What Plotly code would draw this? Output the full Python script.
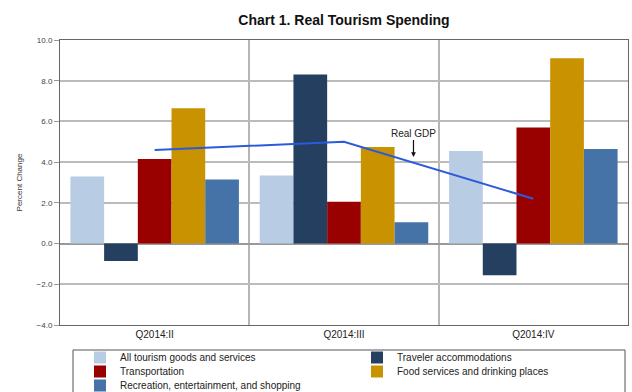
import plotly.graph_objects as go

quarters = ["Q2014:II", "Q2014:III", "Q2014:IV"]
series_names = [
    "All tourism goods and services",
    "Traveler accommodations",
    "Transportation",
    "Food services and drinking places",
    "Recreation, entertainment, and shopping",
]
all_tourism = [3.3, 3.35, 4.55]
traveler_acc = [-0.85, 8.3, -1.55]
transportation = [4.15, 2.05, 5.7]
food_services = [6.65, 4.75, 9.1]
recreation = [3.15, 1.05, 4.65]
real_gdp = [4.6, 5.0, 2.2]
y_ticks = [-4, -2, 0, 2, 4, 6, 8, 10]

series_values = [all_tourism, traveler_acc, transportation, food_services, recreation]
colors = ["#b8cce4", "#243f60", "#990000", "#c89200", "#4572a7"]
legend_ids = ["legend", "legend", "legend2", "legend2", "legend3"]

fig = go.Figure()
for name, vals, c, lg in zip(series_names, series_values, colors, legend_ids):
    fig.add_trace(go.Bar(x=quarters, y=vals, name=name, marker_color=c,
                         marker_line_width=0, legend=lg))
fig.add_trace(go.Scatter(x=quarters, y=real_gdp, mode="lines", name="Real GDP",
                         line=dict(color="#2a5bdc", width=2), showlegend=False))

fig.add_annotation(x=1.367, y=4.25, xref="x", yref="y",
                   text="Real GDP", showarrow=True, arrowhead=2, arrowsize=0.8,
                   arrowwidth=1.2, arrowcolor="#111", ax=0, ay=-24,
                   font=dict(size=10, color="#222"))

fig.add_shape(type="rect", xref="paper", yref="paper",
              x0=(73 - 60) / 568, x1=(625 - 60) / 568,
              y0=-0.40, y1=-(350 - 325) / 285,
              line=dict(color="#555", width=1))

leg_common = dict(orientation="h", xref="container", yref="container",
                  x=80 / 632, xanchor="left", yanchor="top",
                  entrywidth=232, entrywidthmode="pixels",
                  font=dict(size=10, color="#222"), bgcolor="rgba(0,0,0,0)",
                  borderwidth=0, itemwidth=30)

fig.update_layout(
    width=632, height=392,
    margin=dict(l=60, r=4, t=40, b=67),
    paper_bgcolor="white", plot_bgcolor="white",
    font=dict(family="Liberation Sans, Arial", size=9, color="#222"),
    title=dict(text="<b>Chart 1. Real Tourism Spending</b>", x=0.5, xref="paper",
               xanchor="center", y=1 - 20 / 392, yanchor="middle",
               font=dict(size=14, color="#111")),
    barmode="group", bargap=0.11, bargroupgap=0,
    showlegend=True,
    legend=dict(leg_common, y=1 - 343 / 392),
    legend2=dict(leg_common, y=1 - 357 / 392),
    legend3=dict(leg_common, y=1 - 371 / 392),
    xaxis=dict(type="category", tickson="boundaries", showgrid=True,
               gridcolor="#b5b5b5", gridwidth=1.5, ticks="", showline=True,
               linecolor="#666", mirror=True, tickfont=dict(size=10, color="#222"),
               range=[-0.5, 2.5]),
    yaxis=dict(range=[-4, 10], tickvals=y_ticks, tickformat=".1f",
               showgrid=True, gridcolor="#bbbbbb", gridwidth=1.5,
               zeroline=True, zerolinecolor="#999", zerolinewidth=1.5,
               ticks="outside", ticklen=5, tickcolor="#999", showline=True,
               linecolor="#666", mirror=True, tickfont=dict(size=8, color="#444"),
               title=dict(text="Percent Change", font=dict(size=8, color="#333"),
                          standoff=12)),
)

fig.write_html("out.html")
